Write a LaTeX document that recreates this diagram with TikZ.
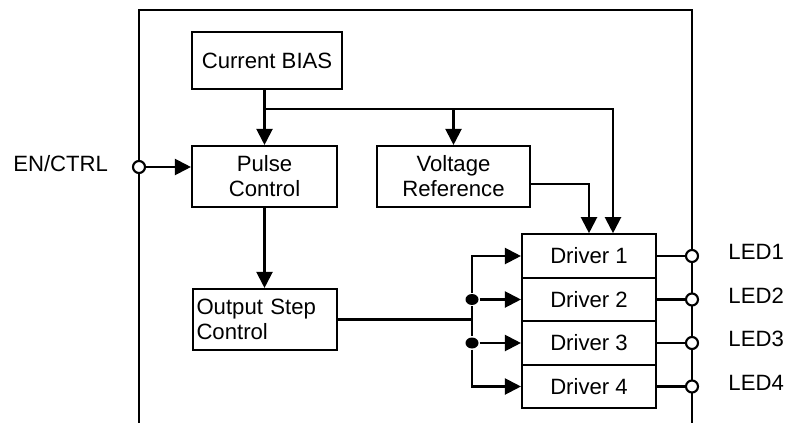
\documentclass[tikz,border=0pt]{standalone}
\usepackage{fontspec}
\setmainfont{Liberation Sans}
\usetikzlibrary{arrows.meta,positioning,shapes.geometric}
\begin{document}
\begin{tikzpicture}[line width=1.2pt, every node/.style={font=\fontsize{12.6}{14.2}\selectfont},
  blk/.style={draw,line width=1.2pt,align=center,inner sep=2pt,minimum height=1.22cm},
  drv/.style={blk,minimum width=2.68cm,minimum height=0.87cm},
  pin/.style={draw,fill=white,circle,inner sep=0pt,minimum size=0.24cm},
  tap/.style={fill,ellipse,inner sep=0pt,minimum width=0.26cm,minimum height=0.22cm},
  >={Triangle[length=0.32cm,width=0.32cm]}]
\useasboundingbox (0,0) rectangle (15.76,-8.46);
% chip outline
\draw (2.78,-8.46) -- (2.78,-0.20) -- (13.84,-0.20) -- (13.84,-8.46);
\coordinate (rail) at (13.84,0);
\coordinate (bus) at (9.44,0);
\node[blk,minimum width=3.0cm,minimum height=1.14cm] (bias) at (5.34,-1.21) {Current BIAS};
\node[blk,minimum width=2.9cm] (pulse) at (5.29,-3.53) {Pulse\\Control};
\node[blk,minimum width=3.06cm] (vref) at (9.07,-3.53) {Voltage\\Reference};
\node[blk,minimum width=2.88cm,text width=2.74cm,align=left] (outstep) at (5.30,-6.39) {Output Step\\Control};
\node[drv] (d1) at (11.78,-5.12) {Driver 1};
\node[drv,below=-1.2pt of d1] (d2) {Driver 2};
\node[drv,below=-1.2pt of d2] (d3) {Driver 3};
\node[drv,below=-1.2pt of d3] (d4) {Driver 4};
% bias distribution
\coordinate (fork) at (5.29,-2.18);
\coordinate (d1in) at (12.26,-2.18);
\draw[->] (pulse.north |- bias.south) -- (pulse.north);
\draw[->] (fork) -- (d1in) -- (d1in |- d1.north);
\draw[->] (fork -| vref.north) -- (vref.north);
\draw[->] ([yshift=-0.15cm]vref.east) -| (d1.north);
\draw[->] (pulse.south) -- (pulse.south |- outstep.north);
% enable input
\node[pin] (en) at (2.78,-3.34) {};
\node[left=0.34cm of en,yshift=0.07cm] (enl) {EN/CTRL};
\draw[->] (en) -- (en -| pulse.west);
% step bus to drivers
\node[tap] (j2) at (bus |- d2.west) {};
\node[tap] (j3) at (bus |- d3.west) {};
\draw (outstep.east) -- (outstep.east -| bus);
\draw (j2) -- (j3);
\draw[->] (j2) |- (d1.west);
\draw[->] (j2) -- (d2.west);
\draw[->] (j3) -- (d3.west);
\draw[->] (j3) |- (d4.west);
% LED outputs
\foreach \i in {1,...,4} {
  \node[pin] (p\i) at (d\i.east -| rail) {};
  \draw (d\i.east) -- (p\i);
  \node[right=0.45cm of p\i,yshift=0.08cm] (led\i) {LED\i};
}
\end{tikzpicture}
\end{document}
